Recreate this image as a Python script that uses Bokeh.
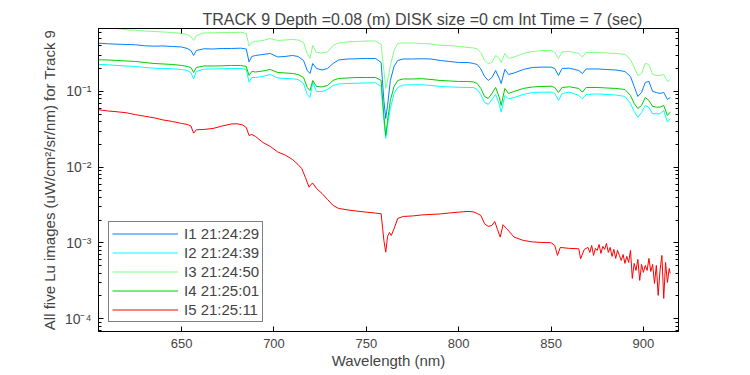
from bokeh.plotting import figure
from bokeh.models import Range1d, FixedTicker, LinearAxis, LogAxis, Legend, LegendItem
from bokeh.embed import file_html
from bokeh.resources import INLINE

# ---- data ----
wl = [605, 610, 615, 620, 625, 630, 635, 640, 645, 650,
      653, 655, 656.5, 658, 662, 667, 672, 677, 682, 685,
      686.5, 688, 690, 694, 698, 702, 706, 710, 713, 716,
      718, 719.5, 721, 723, 726, 729, 732, 735, 740, 745,
      750, 755, 758, 759.5, 760.5, 761.5, 763, 765, 767, 770,
      775, 780, 785, 790, 795, 800, 805, 808, 810, 812,
      814, 816, 818, 820, 822, 823, 825, 827, 830, 835,
      840, 845, 850, 852, 854, 856, 860, 865, 867, 869,
      875, 880, 885, 890, 893, 895, 897, 899, 901, 903,
      905, 907, 909, 911, 913, 914.5]

i1 = [0.4339, 0.4262, 0.4210, 0.4171, 0.4134, 0.4010, 0.3961, 0.3986, 0.3925, 0.3866,
      0.3694, 0.3476, 0.2986, 0.3476, 0.3660, 0.3637, 0.3694, 0.3694, 0.3728, 0.3637,
      0.2451, 0.2897, 0.2986, 0.3078, 0.3173, 0.2853, 0.2897, 0.2986, 0.2897, 0.2565,
      0.1893, 0.1728, 0.2342, 0.2012, 0.1922, 0.2012, 0.2342, 0.2604, 0.2685, 0.2701,
      0.2726, 0.2726, 0.2414, 0.0761, 0.0440, 0.0654, 0.1397, 0.2138, 0.2565, 0.2685,
      0.2685, 0.2701, 0.2685, 0.2565, 0.2488, 0.2414, 0.2414, 0.2342, 0.2272, 0.1982,
      0.1578, 0.1397, 0.1530, 0.1893, 0.1485, 0.1275, 0.1951, 0.1676, 0.1754, 0.1951,
      0.2074, 0.2095, 0.2095, 0.2012, 0.1626, 0.2012, 0.2030, 0.1893, 0.1728, 0.1982,
      0.1982, 0.1951, 0.1922, 0.1836, 0.1578, 0.1164, 0.0859, 0.0970, 0.1315, 0.1355,
      0.1000, 0.0970, 0.0941, 0.0970, 0.0784, 0.0833]

i2 = [0.2272, 0.2251, 0.2204, 0.2170, 0.2138, 0.2074, 0.2030, 0.2012, 0.1994, 0.1951,
      0.1893, 0.1781, 0.1471, 0.1836, 0.1970, 0.1982, 0.1994, 0.2012, 0.2012, 0.1951,
      0.1326, 0.1530, 0.1530, 0.1578, 0.1676, 0.1507, 0.1485, 0.1471, 0.1440, 0.1275,
      0.0913, 0.0833, 0.1315, 0.1000, 0.1000, 0.1063, 0.1200, 0.1256, 0.1275, 0.1287,
      0.1295, 0.1303, 0.1164, 0.0414, 0.0240, 0.0356, 0.0597, 0.0941, 0.1129, 0.1218,
      0.1226, 0.1226, 0.1200, 0.1164, 0.1146, 0.1138, 0.1129, 0.1129, 0.1063, 0.0913,
      0.0716, 0.0674, 0.0784, 0.0913, 0.0674, 0.0533, 0.0886, 0.0801, 0.0833, 0.0913,
      0.0970, 0.0979, 0.0979, 0.0941, 0.0761, 0.0941, 0.0979, 0.0886, 0.0801, 0.0913,
      0.0927, 0.0913, 0.0899, 0.0859, 0.0694, 0.0545, 0.0458, 0.0528, 0.0654, 0.0615,
      0.0508, 0.0508, 0.0508, 0.0561, 0.0394, 0.0435]

i3 = [0.7100, 0.6992, 0.6783, 0.6518, 0.6443, 0.6287, 0.6192, 0.6099, 0.6006, 0.5827,
      0.5652, 0.5319, 0.4710, 0.5483, 0.5916, 0.5952, 0.6006, 0.6006, 0.6043, 0.5827,
      0.3961, 0.4433, 0.4569, 0.4710, 0.5005, 0.4710, 0.4783, 0.4856, 0.4783, 0.4433,
      0.3173, 0.2726, 0.4046, 0.3271, 0.3222, 0.3321, 0.4046, 0.4366, 0.4500, 0.4569,
      0.4639, 0.4639, 0.4171, 0.1893, 0.1096, 0.1397, 0.2204, 0.3476, 0.4300, 0.4366,
      0.4366, 0.4300, 0.4234, 0.4046, 0.4046, 0.3925, 0.3808, 0.3750, 0.3638, 0.3271,
      0.2565, 0.2342, 0.2414, 0.2986, 0.2726, 0.2414, 0.3173, 0.2726, 0.2853, 0.3173,
      0.3372, 0.3476, 0.3476, 0.3271, 0.2726, 0.3321, 0.3372, 0.3173, 0.2853, 0.3271,
      0.3271, 0.3222, 0.3173, 0.3078, 0.2644, 0.2074, 0.1626, 0.1728, 0.2342, 0.2272,
      0.1676, 0.1626, 0.1626, 0.1676, 0.1355, 0.1440]

i4 = [0.2620, 0.2604, 0.2565, 0.2527, 0.2488, 0.2414, 0.2342, 0.2307, 0.2272, 0.2204,
      0.2138, 0.2074, 0.1781, 0.2074, 0.2170, 0.2170, 0.2183, 0.2204, 0.2204, 0.2138,
      0.1626, 0.1836, 0.1808, 0.1864, 0.1951, 0.1781, 0.1754, 0.1728, 0.1676, 0.1530,
      0.1129, 0.1031, 0.1397, 0.1164, 0.1147, 0.1200, 0.1397, 0.1485, 0.1507, 0.1530,
      0.1530, 0.1530, 0.1397, 0.0482, 0.0263, 0.0414, 0.0761, 0.1164, 0.1397, 0.1462,
      0.1462, 0.1476, 0.1440, 0.1397, 0.1376, 0.1355, 0.1355, 0.1335, 0.1275, 0.1096,
      0.0859, 0.0808, 0.0941, 0.1129, 0.0833, 0.0654, 0.1096, 0.0941, 0.1000, 0.1096,
      0.1146, 0.1164, 0.1175, 0.1129, 0.0970, 0.1129, 0.1154, 0.1096, 0.0979, 0.1129,
      0.1129, 0.1112, 0.1096, 0.1063, 0.0886, 0.0694, 0.0597, 0.0654, 0.0833, 0.0761,
      0.0634, 0.0621, 0.0621, 0.0654, 0.0482, 0.0533]

wl5 = [605, 610, 615, 620, 625, 630, 635, 640, 645, 650,
       653, 655, 656.5, 658, 662, 667, 672, 677, 680, 683,
       685, 686.5, 688, 690, 694, 698, 702, 706, 710, 713,
       715, 717, 719, 720, 721, 723, 726, 729, 732, 735,
       740, 745, 750, 755, 758, 759.5, 760.5, 761.5, 762.5, 763.5,
       765, 767, 770, 775, 780, 785, 790, 795, 800, 805,
       808, 810, 812, 814, 816, 818, 819.5, 821, 822.5, 824,
       826, 830, 835, 840, 845, 850, 852, 853.5, 855, 860,
       865, 866, 868,
       870, 871, 872, 873, 874, 875, 876, 877, 878, 879,
       880, 881, 882, 883, 884, 885, 886, 887, 888, 889,
       890, 891, 892, 893, 894, 895, 896, 897, 898, 899,
       900, 901, 902, 903, 904, 905, 906, 907, 908, 909,
       910, 911, 912, 913, 914, 914.5]

i5 = [0.05734, 0.05529, 0.05397, 0.05236, 0.04942, 0.04708, 0.04497, 0.04206, 0.04018, 0.03781,
      0.03669, 0.03505, 0.02816, 0.03122, 0.03151, 0.03248, 0.03505, 0.03725, 0.03748, 0.03614,
      0.03348, 0.02626, 0.02707, 0.02548, 0.02122, 0.01880, 0.01590, 0.01451, 0.01266, 0.01088,
      0.009634, 0.007328, 0.005457, 0.005924, 0.006163, 0.005245, 0.004506, 0.003754, 0.003128, 0.002855,
      0.002729, 0.002631, 0.002553, 0.002476, 0.002431, 0.001080, 0.0007566, 0.001220, 0.001377, 0.001257,
      0.001541, 0.002108, 0.002239, 0.002273, 0.002344, 0.002380, 0.002416, 0.002490, 0.002553, 0.002608,
      0.002569, 0.002453, 0.002309, 0.001794, 0.001653, 0.001704, 0.001925, 0.001509, 0.001195, 0.001740,
      0.001541, 0.001195, 0.001080, 0.001032, 0.001016, 0.001007, 0.0009278, 0.0006846, 0.0008733, 0.0008472,
      0.0008394, 0.0006194, 0.0008219,
      0.0008733, 0.0007502, 0.0009278, 0.0006846, 0.0008472, 0.0007973, 0.0009565, 0.0007277, 0.0009001, 0.0008219,
      0.0009861, 0.0007502, 0.0008733, 0.0006643, 0.0008219, 0.0006250, 0.0007973, 0.0006846, 0.0005883, 0.0007057,
      0.0005369, 0.0006643, 0.0005533, 0.0007973, 0.0003404, 0.0005369, 0.0004341, 0.0006063, 0.0003203, 0.0005210,
      0.0004086, 0.0005052, 0.0004341, 0.0006250, 0.0004211, 0.0005210, 0.0002924, 0.0005052, 0.0002030, 0.0004341,
      0.0006846, 0.0001854, 0.0005533, 0.0003013, 0.0004613, 0.0003963]

labels = ["I1 21:24:29", "I2 21:24:39", "I3 21:24:50", "I4 21:25:01", "I5 21:25:11"]
colors = ["#0080ff", "#00ffff", "#80ff80", "#00cc00", "#ff0000"]
x_ticks = [650, 700, 750, 800, 850, 900]
y_major = [1e-4, 1e-3, 1e-2, 1e-1]
y_major_labels = ["10\u207b\u2074", "10\u207b\u00b3", "10\u207b\u00b2", "10\u207b\u00b9"]
y_minor = [m * 10.0 ** e for e in range(-5, 0) for m in range(2, 10)]

title_text = "TRACK 9 Depth =0.08 (m) DISK size =0 cm   Int Time = 7 (sec)"
x_label = "Wavelength (nm)"
y_label = "All five Lu images (uW/cm\u00b2/sr/nm) for Track 9"

FONT = "Liberation Sans"

p = figure(width=745, height=372,
           x_range=Range1d(605, 919), y_range=Range1d(6.78e-5, 0.678),
           y_axis_type="log", output_backend="svg", toolbar_location=None,
           min_border_left=98, min_border_right=67, min_border_top=28, min_border_bottom=41)
p.background_fill_color = "white"
p.border_fill_color = "white"
p.outline_line_color = "black"
p.outline_line_alpha = 1.0
p.grid.visible = False

p.title.text = title_text
p.title.text_font = FONT
p.title.text_font_size = "16px"
p.title.text_font_style = "normal"
p.title.align = "left"
p.title.offset = 104
p.title.standoff = 2

xa = p.xaxis[0]
xa.ticker = FixedTicker(ticks=x_ticks)
xa.axis_label = x_label
xa.axis_label_text_font = FONT
xa.axis_label_text_font_size = "15px"
xa.axis_label_text_font_style = "normal"
xa.axis_label_standoff = 1
xa.major_label_text_font = FONT
xa.major_label_text_font_size = "13px"
xa.major_label_standoff = 7
xa.major_tick_in = 5
xa.major_tick_out = 0
xa.minor_tick_line_color = None
xa.axis_line_color = "black"
xa.major_tick_line_color = "black"

ya = p.yaxis[0]
ya.ticker = FixedTicker(ticks=y_major, minor_ticks=y_minor)
ya.major_label_overrides = dict(zip(y_major, y_major_labels))
ya.axis_label = y_label
ya.axis_label_text_font = FONT
ya.axis_label_text_font_size = "15px"
ya.axis_label_text_font_style = "normal"
ya.axis_label_standoff = 4
ya.major_label_text_font = FONT
ya.major_label_text_font_size = "14px"
ya.major_label_standoff = 7
ya.major_tick_in = 5
ya.major_tick_out = 0
ya.minor_tick_in = 3
ya.minor_tick_out = 0
ya.axis_line_color = "black"

top = LinearAxis(ticker=FixedTicker(ticks=x_ticks), major_label_text_font_size="1px",
                 major_label_text_color=None, major_label_standoff=0,
                 major_tick_in=5, major_tick_out=0,
                 minor_tick_line_color=None, axis_line_color="black")
p.add_layout(top, "above")
right = LogAxis(ticker=FixedTicker(ticks=y_major, minor_ticks=y_minor),
                major_label_text_font_size="1px", major_label_text_color=None,
                major_label_standoff=0,
                major_tick_in=5, major_tick_out=0, minor_tick_in=3, minor_tick_out=0,
                axis_line_color="black")
p.add_layout(right, "right")

series = [(wl, i1), (wl, i2), (wl, i3), (wl, i4), (wl5, i5)]
items = []
for (xs, ys), lab, col in zip(series, labels, colors):
    r = p.line(xs, ys, line_color=col, line_width=1)
    items.append(LegendItem(label=lab, renderers=[r]))

legend = Legend(items=items, location=(10, 9), margin=0, padding=3, spacing=2,
                glyph_width=66, glyph_height=17, label_height=17, label_standoff=6,
                label_text_font=FONT, label_text_font_size="15px",
                border_line_color="black", border_line_width=1,
                background_fill_color="white", background_fill_alpha=1.0)
p.add_layout(legend, "center")

open("out.html", "w").write(file_html(p, INLINE))
